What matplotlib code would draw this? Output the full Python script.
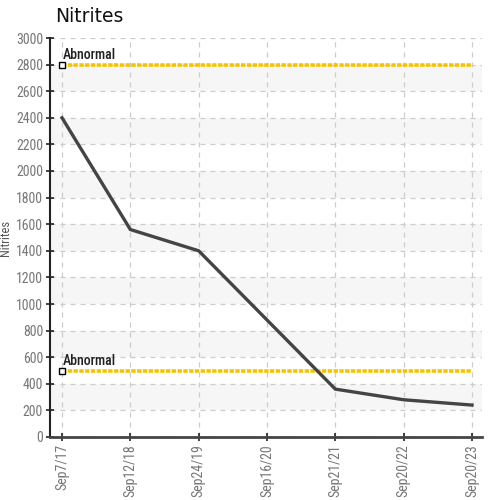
import numpy as np
import matplotlib.pyplot as plt

# donnees
dates = ["Sep7/17", "Sep12/18", "Sep24/19", "Sep16/20", "Sep21/21", "Sep20/22", "Sep20/23"]
nitrites = [2400, 1560, 1400, np.nan, 360, 280, 240]
seuils = [2800, 500]
seuil_label = "Abnormal"

police = ["Roboto Condensed", "DejaVu Sans"]

fig = plt.figure(figsize=(4.92, 5.0), dpi=100)
ax = fig.add_axes([0.1016, 0.126, 0.878, 0.798])

x = np.arange(len(dates))
ymax = 3000
ax.set_xlim(-0.176, len(dates) - 1 + 0.146)
ax.set_ylim(0, ymax)

# bandes grises
for b in range(200, ymax, 400):
    ax.axhspan(b, b + 200, color="#f6f6f6", zorder=0, lw=0)

ax.grid(True, color="#cccccc", linestyle=(0, (4, 4)), linewidth=0.9)
ax.set_axisbelow(True)

# ligne de donnees (points manquants relies)
v = np.array(nitrites, dtype=float)
ok = ~np.isnan(v)
ax.plot(x[ok], v[ok], color="#444444", lw=2.4, solid_joinstyle="miter", zorder=4)

for s in seuils:
    ax.plot([x[0], x[-1]], [s, s], color="#f5c400", lw=2.6, linestyle=(0, (1.2, 0.4)), zorder=3)
    ax.plot([x[0]], [s], marker="s", ms=4.5, mfc="white", mec="black", mew=1.0, zorder=5)
    ax.text(x[0] + 0.01, s + 18, seuil_label, fontsize=10, color="#222222",
            family=police, fontweight="medium", va="bottom", ha="left", zorder=6)

ax.set_xticks(x)
ax.set_xticklabels(dates, rotation=90, family=police, fontsize=10, color="#777777")
ax.set_yticks(range(0, ymax + 1, 200))
ax.set_yticklabels([str(t) for t in range(0, ymax + 1, 200)], family=police, fontsize=10, color="#777777")
ax.tick_params(axis="both", direction="inout", length=6, width=1.2, color="#222222", pad=2)

for c in ["top", "right"]:
    ax.spines[c].set_visible(False)
ax.spines["left"].set_color("#222222")
ax.spines["left"].set_linewidth(1.5)
ax.spines["bottom"].set_color("#444444")
ax.spines["bottom"].set_linewidth(2.0)

ax.set_ylabel("Nitrites", family=police, fontsize=9, color="#555555", labelpad=3)
fig.text(0.112, 0.966, "Nitrites", fontsize=13.5, color="#111111", ha="left", va="center")

fig.savefig("out.png", dpi=100)
